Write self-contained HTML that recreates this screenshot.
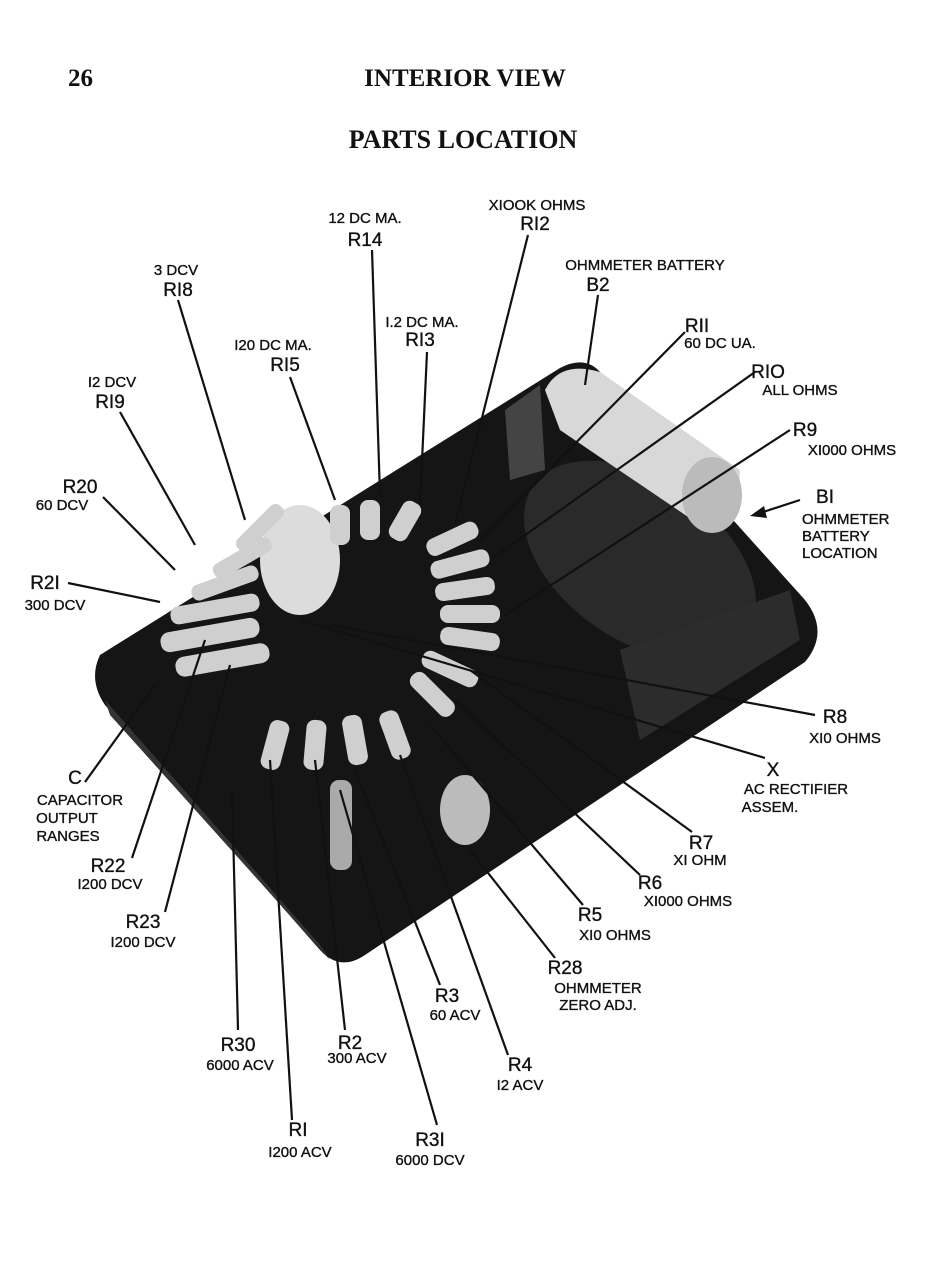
<!DOCTYPE html>
<html><head><style>
html,body{margin:0;padding:0;background:#fff;}
svg{display:block;}
text{font-family:"Liberation Sans",sans-serif;fill:#111;stroke:#111;stroke-width:0.35;}
.s{font-size:15px;}
.b{font-size:19px;}
.t{font-family:"Liberation Serif",serif;font-weight:bold;font-size:25px;stroke:none;}
.t2{font-family:"Liberation Serif",serif;font-weight:bold;font-size:26px;stroke:none;}
line{stroke:#111;stroke-width:2.2;}
</style></head><body>
<svg width="940" height="1282" viewBox="0 0 940 1282" xmlns="http://www.w3.org/2000/svg">
<text class="t" x="68" y="86">26</text>
<text class="t" x="465" y="86" text-anchor="middle">INTERIOR VIEW</text>
<text class="t2" x="463" y="148" text-anchor="middle">PARTS LOCATION</text>

<path d="M100,655 L560,368 Q585,355 600,372 L805,600 Q830,632 805,662 L365,955 Q340,972 320,950 L105,705 Q88,680 100,655 Z" fill="#151515"/>
<path d="M105,700 L320,945 L330,960 L110,715 Z" fill="#333"/>
<ellipse cx="640" cy="560" rx="130" ry="80" transform="rotate(35 640 560)" fill="#2a2a2a"/>
<path d="M620,650 L790,590 L800,640 L640,740 Z" fill="#2c2c2c"/>
<path d="M545,390 Q560,360 600,372 L740,470 Q740,520 700,525 L560,430 Z" fill="#d8d8d8"/>
<ellipse cx="712" cy="495" rx="30" ry="38" fill="#bbb"/>
<path d="M505,410 L540,385 L545,470 L510,480 Z" fill="#444"/>
<g fill="#cfcfcf">
<ellipse cx="300" cy="560" rx="40" ry="55" fill="#dcdcdc"/>
<rect x="170" y="600" width="90" height="18" rx="8" transform="rotate(-10 215 609)"/>
<rect x="160" y="625" width="100" height="20" rx="9" transform="rotate(-10 210 635)"/>
<rect x="175" y="650" width="95" height="20" rx="9" transform="rotate(-10 222 660)"/>
<rect x="190" y="575" width="70" height="16" rx="7" transform="rotate(-20 225 583)"/>
<rect x="210" y="550" width="65" height="16" rx="7" transform="rotate(-30 242 558)"/>
<rect x="230" y="520" width="60" height="16" rx="7" transform="rotate(-45 260 528)"/>
<rect x="330" y="505" width="20" height="40" rx="8"/>
<rect x="360" y="500" width="20" height="40" rx="8"/>
<rect x="395" y="500" width="20" height="42" rx="8" transform="rotate(30 405 521)"/>
<rect x="425" y="530" width="55" height="18" rx="8" transform="rotate(-25 452 539)"/>
<rect x="430" y="555" width="60" height="18" rx="8" transform="rotate(-15 460 564)"/>
<rect x="435" y="580" width="60" height="18" rx="8" transform="rotate(-8 465 589)"/>
<rect x="440" y="605" width="60" height="18" rx="8"/>
<rect x="440" y="630" width="60" height="18" rx="8" transform="rotate(8 470 639)"/>
<rect x="420" y="660" width="60" height="18" rx="8" transform="rotate(25 450 669)"/>
<rect x="405" y="685" width="55" height="18" rx="8" transform="rotate(45 432 694)"/>
<rect x="385" y="710" width="20" height="50" rx="8" transform="rotate(-20 395 735)"/>
<rect x="345" y="715" width="20" height="50" rx="8" transform="rotate(-10 355 740)"/>
<rect x="305" y="720" width="20" height="50" rx="8" transform="rotate(5 315 745)"/>
<rect x="265" y="720" width="20" height="50" rx="8" transform="rotate(15 275 745)"/>
<rect x="330" y="780" width="22" height="90" rx="9" fill="#aaa"/>
<ellipse cx="465" cy="810" rx="25" ry="35" fill="#bbb"/>
</g>

<g>
<line x1="372" y1="250" x2="380" y2="495"/>
<line x1="528" y1="235" x2="455" y2="525"/>
<line x1="598" y1="295" x2="585" y2="385"/>
<line x1="178" y1="300" x2="245" y2="520"/>
<line x1="427" y1="352" x2="420" y2="505"/>
<line x1="685" y1="332" x2="480" y2="540"/>
<line x1="290" y1="377" x2="335" y2="500"/>
<line x1="755" y1="372" x2="490" y2="560"/>
<line x1="120" y1="412" x2="195" y2="545"/>
<line x1="790" y1="430" x2="505" y2="615"/>
<line x1="103" y1="497" x2="175" y2="570"/>
<line x1="800" y1="500" x2="760" y2="513"/>
<line x1="68" y1="583" x2="160" y2="602"/>
<line x1="815" y1="715" x2="330" y2="625"/>
<line x1="85" y1="782" x2="155" y2="685"/>
<line x1="765" y1="758" x2="300" y2="620"/>
<line x1="692" y1="832" x2="470" y2="670"/>
<line x1="132" y1="858" x2="205" y2="640"/>
<line x1="640" y1="875" x2="455" y2="700"/>
<line x1="165" y1="912" x2="230" y2="665"/>
<line x1="583" y1="905" x2="430" y2="725"/>
<line x1="555" y1="958" x2="470" y2="850"/>
<line x1="238" y1="1030" x2="232" y2="790"/>
<line x1="440" y1="985" x2="355" y2="770"/>
<line x1="345" y1="1030" x2="315" y2="760"/>
<line x1="508" y1="1055" x2="400" y2="755"/>
<line x1="292" y1="1120" x2="270" y2="760"/>
<line x1="437" y1="1125" x2="340" y2="790"/>
</g>
<polygon points="750,516 764,506 767,518" fill="#111"/>

<text class="s" x="365" y="223" text-anchor="middle">12 DC MA.</text>
<text class="b" x="365" y="246" text-anchor="middle">R14</text>
<text class="s" x="537" y="210" text-anchor="middle">XIOOK OHMS</text>
<text class="b" x="535" y="230" text-anchor="middle">RI2</text>
<text class="s" x="645" y="270" text-anchor="middle">OHMMETER BATTERY</text>
<text class="b" x="598" y="291" text-anchor="middle">B2</text>
<text class="s" x="176" y="275" text-anchor="middle">3 DCV</text>
<text class="b" x="178" y="296" text-anchor="middle">RI8</text>
<text class="s" x="422" y="327" text-anchor="middle">I.2 DC MA.</text>
<text class="b" x="420" y="346" text-anchor="middle">RI3</text>
<text class="b" x="697" y="332" text-anchor="middle">RII</text>
<text class="s" x="720" y="348" text-anchor="middle">60 DC UA.</text>
<text class="s" x="273" y="350" text-anchor="middle">I20 DC MA.</text>
<text class="b" x="285" y="371" text-anchor="middle">RI5</text>
<text class="b" x="768" y="378" text-anchor="middle">RIO</text>
<text class="s" x="800" y="395" text-anchor="middle">ALL OHMS</text>
<text class="s" x="112" y="387" text-anchor="middle">I2 DCV</text>
<text class="b" x="110" y="408" text-anchor="middle">RI9</text>
<text class="b" x="805" y="436" text-anchor="middle">R9</text>
<text class="s" x="852" y="455" text-anchor="middle">XI000 OHMS</text>
<text class="b" x="80" y="493" text-anchor="middle">R20</text>
<text class="s" x="62" y="510" text-anchor="middle">60 DCV</text>
<text class="b" x="825" y="503" text-anchor="middle">BI</text>
<text class="s" x="802" y="524">OHMMETER</text>
<text class="s" x="802" y="541">BATTERY</text>
<text class="s" x="802" y="558">LOCATION</text>
<text class="b" x="45" y="589" text-anchor="middle">R2I</text>
<text class="s" x="55" y="610" text-anchor="middle">300 DCV</text>
<text class="b" x="835" y="723" text-anchor="middle">R8</text>
<text class="s" x="845" y="743" text-anchor="middle">XI0 OHMS</text>
<text class="b" x="75" y="784" text-anchor="middle">C</text>
<text class="s" x="80" y="805" text-anchor="middle">CAPACITOR</text>
<text class="s" x="67" y="823" text-anchor="middle">OUTPUT</text>
<text class="s" x="68" y="841" text-anchor="middle">RANGES</text>
<text class="b" x="773" y="776" text-anchor="middle">X</text>
<text class="s" x="796" y="794" text-anchor="middle">AC RECTIFIER</text>
<text class="s" x="770" y="812" text-anchor="middle">ASSEM.</text>
<text class="b" x="701" y="849" text-anchor="middle">R7</text>
<text class="s" x="700" y="865" text-anchor="middle">XI OHM</text>
<text class="b" x="108" y="872" text-anchor="middle">R22</text>
<text class="s" x="110" y="889" text-anchor="middle">I200 DCV</text>
<text class="b" x="650" y="889" text-anchor="middle">R6</text>
<text class="s" x="688" y="906" text-anchor="middle">XI000 OHMS</text>
<text class="b" x="143" y="928" text-anchor="middle">R23</text>
<text class="s" x="143" y="947" text-anchor="middle">I200 DCV</text>
<text class="b" x="590" y="921" text-anchor="middle">R5</text>
<text class="s" x="615" y="940" text-anchor="middle">XI0 OHMS</text>
<text class="b" x="565" y="974" text-anchor="middle">R28</text>
<text class="s" x="598" y="993" text-anchor="middle">OHMMETER</text>
<text class="s" x="598" y="1010" text-anchor="middle">ZERO ADJ.</text>
<text class="b" x="447" y="1002" text-anchor="middle">R3</text>
<text class="s" x="455" y="1020" text-anchor="middle">60 ACV</text>
<text class="b" x="238" y="1051" text-anchor="middle">R30</text>
<text class="s" x="240" y="1070" text-anchor="middle">6000 ACV</text>
<text class="b" x="350" y="1049" text-anchor="middle">R2</text>
<text class="s" x="357" y="1063" text-anchor="middle">300 ACV</text>
<text class="b" x="520" y="1071" text-anchor="middle">R4</text>
<text class="s" x="520" y="1090" text-anchor="middle">I2 ACV</text>
<text class="b" x="298" y="1136" text-anchor="middle">RI</text>
<text class="s" x="300" y="1157" text-anchor="middle">I200 ACV</text>
<text class="b" x="430" y="1146" text-anchor="middle">R3I</text>
<text class="s" x="430" y="1165" text-anchor="middle">6000 DCV</text>
</svg>
</body></html>
